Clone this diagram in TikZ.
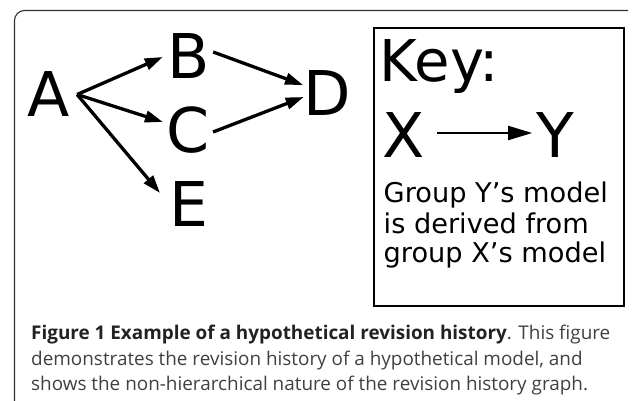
\documentclass[tikz,border=0pt]{standalone}
\usepackage{fontspec}
\usetikzlibrary{arrows.meta,calc}
\newfontfamily\dvs{DejaVu Sans}
\newfontfamily\capfont{Open Sans}
\definecolor{captxt}{RGB}{64,64,64}
\definecolor{capbold}{RGB}{34,34,34}
\definecolor{framec}{RGB}{50,50,50}
\begin{document}
\begin{tikzpicture}[x=1pt,y=-1pt,
  letter/.style={font=\dvs\fontsize{61.7}{70}\selectfont, inner sep=0pt, outer sep=0pt},
  keyword/.style={font=\dvs\fontsize{57.6}{66}\selectfont, inner sep=0pt, anchor=base west},
  rev/.style={line width=3.3pt, -{Triangle[length=18pt,width=11.5pt]}},
  keyarr/.style={line width=2pt, -{Triangle[length=24pt,width=14pt]}},
  keybox/.style={draw, line width=2.4pt},
  keytext/.style={font=\dvs\fontsize{27.2}{30}\selectfont, anchor=base west, inner sep=0pt},
  captext/.style={font=\capfont\fontsize{18.9}{25}\selectfont, text=captxt, anchor=base west, inner sep=0pt}]
\useasboundingbox (0,0) rectangle (633,401);
% frame
\draw[framec, line width=1.1pt, rounded corners=10pt] (14.5,401) -- (14.5,10.5) -- (628,10.5);
% graph
\node[letter] (A) at (49,94.5) {A};
\node[letter] (B) at (189,56) {B};
\node[letter] (C) at (188.5,130.5) {C};
\node[letter] (E) at (189,204.5) {E};
\node[letter] (D) at (327.5,93.5) {D};
\coordinate (Aout) at ($(A.east)+(7,0)$);
\draw[rev] (Aout) -- ($(B.west)+(-5,1)$);
\draw[rev] (Aout) -- ($(C.west)+(-4,-8.5)$);
\draw[rev] (Aout) -- ($(E.north west)+(-9.5,11)$);
\draw[rev] ($(B.east)+(3,-4)$) -- ($(D.west)+(-0.7,-8.5)$);
\draw[rev] ($(C.east)+(3,1.5)$) -- ($(D.west)+(0,3.5)$);
% key
\draw[keybox] (374,28) rectangle (624,306);
\node[keyword] (key) at (379.5,82) {Key:};
\node[letter] (X) at (404,135.5) {X};
\node[letter] (Y) at (555,135.5) {Y};
\draw[keyarr] ($(X.east)+(12,-2.5)$) -- ($(Y.west)+(-4,-2.5)$);
\node[keytext] (k1) at (383.5,203) {Group Y’s model};
\node[keytext] (k2) at (383.5,234) {is derived from};
\node[keytext] (k3) at (383.5,263) {group X’s model};
% caption
\node[captext] (c1) at (31,339.5) {\textcolor{capbold}{\bfseries Figure 1 Example of a hypothetical revision history}. This figure};
\node[captext] (c2) at (31,365.5) {demonstrates the revision history of a hypothetical model, and};
\node[captext] (c3) at (31,391) {shows the non-hierarchical nature of the revision history graph.};
\end{tikzpicture}
\end{document}
